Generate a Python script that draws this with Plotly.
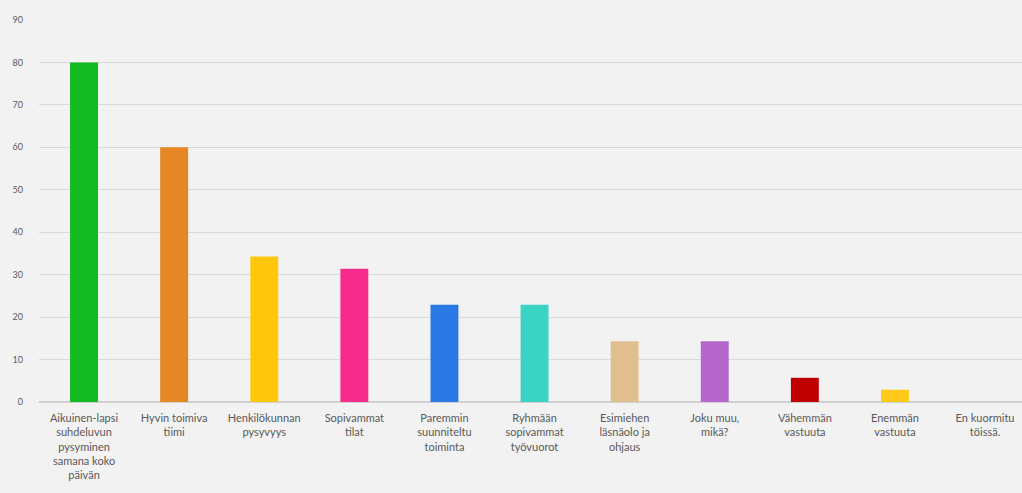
import plotly.graph_objects as go

categories = [
    "Aikuinen-lapsi<br>suhdeluvun<br>pysyminen<br>samana koko<br>päivän",
    "Hyvin toimiva<br>tiimi",
    "Henkilökunnan<br>pysyvyys",
    "Sopivammat<br>tilat",
    "Paremmin<br>suunniteltu<br>toiminta",
    "Ryhmään<br>sopivammat<br>työvuorot",
    "Esimiehen<br>läsnäolo ja<br>ohjaus",
    "Joku muu,<br>mikä?",
    "Vähemmän<br>vastuuta",
    "Enemmän<br>vastuuta",
    "En kuormitu<br>töissä.",
]
values = [80.0, 60.0, 34.3, 31.4, 22.9, 22.9, 14.3, 14.3, 5.7, 2.9, 0.0]
bar_colors = [
    "#13b920", "#e68624", "#ffc70b", "#f62c8c", "#2b79e4", "#3bd3c4",
    "#e0bf8f", "#b567cc", "#c00000", "#ffca1c", "#888888",
]
y_ticks = [0, 10, 20, 30, 40, 50, 60, 70, 80, 90]

fig = go.Figure(
    go.Bar(
        x=list(range(len(categories))),
        y=values,
        marker=dict(color=bar_colors, line=dict(width=0)),
        width=0.31,
    )
)

fig.update_layout(
    width=1022,
    height=493,
    margin=dict(l=39, r=0, t=20, b=91),
    paper_bgcolor="#f2f2f2",
    plot_bgcolor="#f2f2f2",
    showlegend=False,
    font=dict(family="Lato, sans-serif", color="#595959", size=11),
)
fig.update_xaxes(
    range=[-0.5, 10.41],
    tickmode="array",
    tickvals=list(range(len(categories))),
    ticktext=categories,
    tickangle=0,
    showgrid=False,
    zeroline=False,
    showline=False,
    ticks="",
    ticklabelstandoff=8,
    tickfont=dict(size=11, color="#595959"),
)
fig.update_yaxes(
    range=[0, 90],
    tickmode="array",
    tickvals=y_ticks,
    showgrid=True,
    gridcolor="#d9d9d9",
    gridwidth=1,
    zeroline=True,
    zerolinecolor="#d0d0d0",
    showline=False,
    ticks="",
    ticklabelstandoff=15,
    tickfont=dict(size=9, color="#595959"),
)

fig.write_html("out.html")
